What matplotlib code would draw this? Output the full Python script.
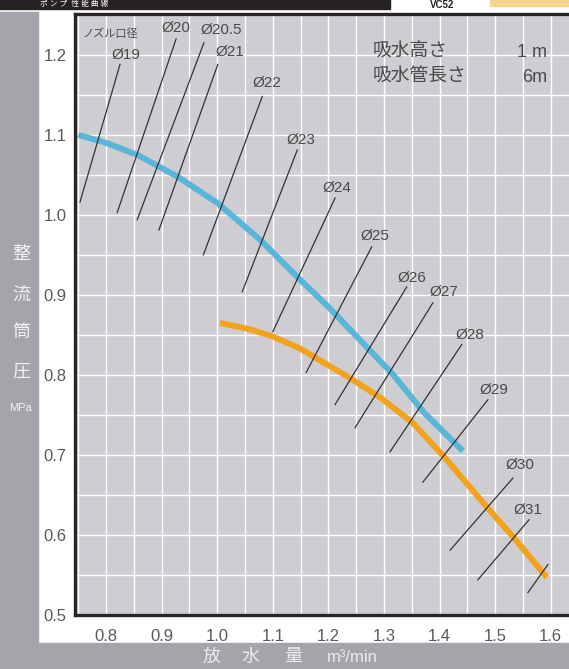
import numpy as np
import matplotlib
matplotlib.use('Agg')
import matplotlib.pyplot as plt
from matplotlib.patches import Rectangle

plt.rcParams['font.family'] = ['Liberation Sans', 'Noto Sans CJK JP']

# 性能曲線 (放水量 m3/min -> 整流筒圧 MPa)
blue_q = [0.75, 0.80, 0.856, 0.928, 1.00, 1.077, 1.149, 1.20, 1.317, 1.372, 1.442]
blue_p = [1.100, 1.090, 1.075, 1.048, 1.015, 0.969, 0.919, 0.885, 0.800, 0.753, 0.705]

orange_q = [1.005, 1.059, 1.10, 1.149, 1.239, 1.293, 1.352, 1.413, 1.485, 1.532, 1.593]
orange_p = [0.865, 0.857, 0.848, 0.833, 0.796, 0.772, 0.740, 0.694, 0.635, 0.598, 0.547]

# ノズル口径ごとの斜線 (上端 -> 下端)
nozzle_names = ['Ø19', 'Ø20', 'Ø20.5', 'Ø21', 'Ø22', 'Ø23', 'Ø24', 'Ø25',
                'Ø26', 'Ø27', 'Ø28', 'Ø29', 'Ø30', 'Ø31', '']
top_q = [0.825, 0.926, 0.976, 1.001, 1.081, 1.144, 1.212, 1.278,
         1.341, 1.388, 1.440, 1.487, 1.532, 1.561, 1.595]
top_p = [1.188, 1.220, 1.215, 1.188, 1.148, 1.081, 1.021, 0.960,
         0.910, 0.890, 0.838, 0.769, 0.671, 0.619, 0.563]
bot_q = [0.753, 0.820, 0.856, 0.895, 0.975, 1.045, 1.100, 1.160,
         1.212, 1.248, 1.311, 1.370, 1.419, 1.469, 1.559]
bot_p = [1.016, 1.003, 0.994, 0.981, 0.950, 0.904, 0.854, 0.803,
         0.763, 0.734, 0.704, 0.666, 0.581, 0.544, 0.528]
label_q = [0.836, 0.926, 1.007, 1.023, 1.090, 1.151, 1.216, 1.284,
           1.350, 1.408, 1.455, 1.498, 1.545, 1.559, 0]
label_p = [1.200, 1.234, 1.231, 1.203, 1.165, 1.094, 1.034, 0.973,
           0.921, 0.904, 0.850, 0.781, 0.688, 0.631, 0]

x_ticks = [0.8, 0.9, 1.0, 1.1, 1.2, 1.3, 1.4, 1.5, 1.6]
y_ticks = [0.5, 0.6, 0.7, 0.8, 0.9, 1.0, 1.1, 1.2]

fig = plt.figure(figsize=(5.69, 6.69), dpi=100)
fig.patch.set_facecolor('white')

# 外側の帯
strip = '#a7a3ab'
fig.patches.append(Rectangle((0, 0), 38 / 569, 1 - 12 / 669, transform=fig.transFigure,
                             color=strip, zorder=0))
fig.patches.append(Rectangle((0, 0), 1, 26 / 669, transform=fig.transFigure,
                             color=strip, zorder=0))
# 見出し
fig.patches.append(Rectangle((0, 1 - 9 / 669), 390 / 569, 9 / 669, transform=fig.transFigure,
                             color='#262224', zorder=0))
fig.patches.append(Rectangle((490 / 569, 1 - 6 / 669), 79 / 569, 6 / 669, transform=fig.transFigure,
                             color='#f6d591', zorder=0))
fig.text(0.07, 1 - 4.5 / 669, 'ポ ン プ  性 能 曲 線', color='white', fontsize=5.5,
         ha='left', va='center')
fig.text(442 / 569, 1 - 5 / 669, 'VC52', color='#222222', fontsize=7,
         fontweight='bold', ha='center', va='center')

ax = fig.add_axes([75 / 569, 54 / 669, 494 / 569, 601 / 669])
ax.set_facecolor('#cecdd2')

ax.set_xlim(0.744, 1.633)
ax.set_ylim(0.5, 1.251)

ax.set_xticks(x_ticks)
ax.set_xticklabels([f'{v:.1f}' for v in x_ticks])
ax.set_yticks(y_ticks)
ax.set_yticklabels([f'{v:.1f}' for v in y_ticks])
ax.set_xticks(np.arange(0.75, 1.64, 0.05), minor=True)
ax.set_yticks(np.arange(0.5, 1.26, 0.05), minor=True)
ax.grid(True, which='both', color='white', linewidth=1.0)
ax.set_axisbelow(True)
ax.tick_params(which='both', length=0, labelsize=12, labelcolor='#5a5a5a')
ax.tick_params(axis='x', pad=10)
ax.tick_params(axis='y', pad=6)

for s in ['left', 'top', 'bottom']:
    ax.spines[s].set_color('#2b2426')
    ax.spines[s].set_linewidth(2.4)
ax.spines['right'].set_visible(False)

# 斜線とラベル
for i in range(len(nozzle_names)):
    ax.plot([top_q[i], bot_q[i]], [top_p[i], bot_p[i]], color='#333333', linewidth=0.9, zorder=3)
    if nozzle_names[i]:
        ax.text(label_q[i], label_p[i], nozzle_names[i], fontsize=11, color='#4a4a4a',
                ha='center', va='center', zorder=4)
ax.text(0.807, 1.226, 'ノズル口径', fontsize=8, color='#4a4a4a', ha='center', va='center')

ax.plot(blue_q, blue_p, color='#5ab6d8', linewidth=4.3, solid_capstyle='butt', zorder=2)
ax.plot(orange_q, orange_p, color='#f2a31d', linewidth=4.3, solid_capstyle='butt', zorder=2)

ax.text(1.280, 1.203, '吸水高さ', fontsize=13.5, color='#4a4a4a', ha='left', va='center')
ax.text(1.594, 1.203, '1 m', fontsize=13, color='#4a4a4a', ha='right', va='center')
ax.text(1.280, 1.172, '吸水管長さ', fontsize=13.5, color='#4a4a4a', ha='left', va='center')
ax.text(1.594, 1.172, '6m', fontsize=13, color='#4a4a4a', ha='right', va='center')

# 軸ラベル (帯の上の白文字)
for ch, yy in zip(['整', '流', '筒', '圧'], [255, 295, 333, 372]):
    fig.text(21 / 569, 1 - yy / 669, ch, color='#f2f2f2', fontsize=13, ha='center', va='center')
fig.text(20 / 569, 1 - 408 / 669, 'MPa', color='#f2f2f2', fontsize=8, ha='center', va='center')

for t, xx in zip(['放', '水', '量'], [212, 250, 293]):
    fig.text(xx / 569, 1 - 657 / 669, t, color='#ececec', fontsize=13, ha='center', va='center')
fig.text(327 / 569, 1 - 657 / 669, 'm³/min', color='#ececec', fontsize=12, ha='left', va='center')

fig.savefig('out.png', dpi=100)
